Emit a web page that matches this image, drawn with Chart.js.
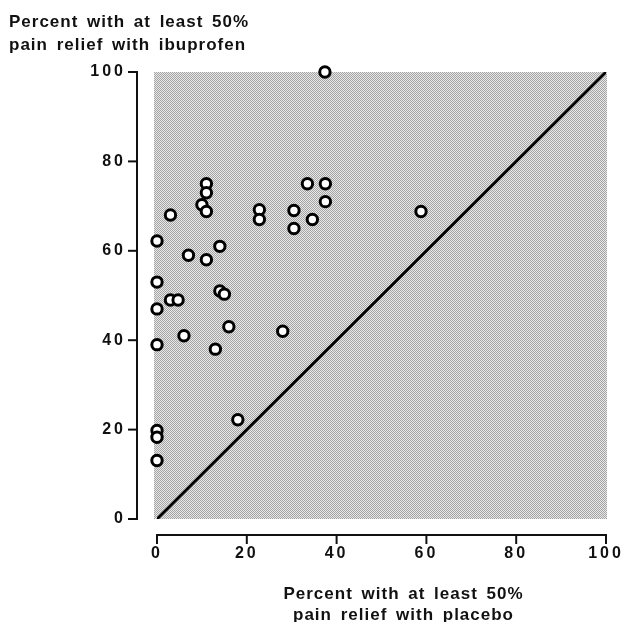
<!DOCTYPE html>
<html>
<head>
<meta charset="utf-8">
<script src="https://cdn.jsdelivr.net/npm/chart.js@4/dist/chart.umd.min.js"></script>
<style>
  html, body { margin: 0; padding: 0; background: #ffffff; }
  #wrap { width: 626px; height: 622px; position: relative; }
</style>
</head>
<body>
<div id="wrap"><canvas id="c" width="626" height="622"></canvas></div>
<script>
// ---- data ----
const placebo   = [37.4, 11, 11, 10, 11, 3, 0, 14, 7, 11, 0, 14, 15, 3, 4.7, 0, 16, 6, 0, 13, 28, 18, 0, 0, 0, 33.5, 37.5, 37.5, 22.8, 22.8, 30.5, 30.5, 34.6, 58.8];
const ibuprofen = [100, 75, 73, 70.3, 68.8, 68, 62.2, 61, 59, 58, 53, 51, 50.3, 49, 49, 47, 43, 41, 39, 38, 42, 22.2, 19.8, 18.3, 13.1, 75, 75, 71, 69.2, 67, 69, 65, 67, 68.8];
const equalityLine = [0, 100];
const tickValues = [0, 20, 40, 60, 80, 100];
const yTitleLines = ['Percent with at least 50%', 'pain relief with ibuprofen'];
const xTitleLines = ['Percent with at least 50%', 'pain relief with placebo'];

const points = placebo.map((x, i) => ({ x: x, y: ibuprofen[i] }));
const diag = equalityLine.map(v => ({ x: v, y: v }));

// stipple pattern for the plot area
const pc = document.createElement('canvas');
pc.width = 2; pc.height = 2;
const pg = pc.getContext('2d');
pg.fillStyle = '#e8e8e8'; pg.fillRect(0, 0, 2, 2);
pg.fillStyle = '#a4a4a4'; pg.fillRect(0, 0, 1, 1); pg.fillRect(1, 1, 1, 1);

const FONT_FAMILY = '"Liberation Sans", Arial, Helvetica, sans-serif';

const decor = {
  id: 'decor',
  beforeUpdate(chart) { chart.ctx.letterSpacing = '3px'; },
  beforeLayout(chart) { chart.ctx.letterSpacing = '3px'; },
  beforeDraw(chart) { chart.ctx.letterSpacing = '3px'; },
  beforeDatasetsDraw(chart) {
    const { ctx, chartArea: a } = chart;
    ctx.save();
    ctx.fillStyle = ctx.createPattern(pc, 'repeat');
    ctx.fillRect(a.left - 3, a.top, a.right - a.left + 4, a.bottom - a.top);
    ctx.restore();
  },
  afterDraw(chart) {
    const { ctx, chartArea: a, scales } = chart;
    const xs = scales.x, ys = scales.y;
    ctx.save();
    ctx.strokeStyle = '#111';
    ctx.lineWidth = 2;
    ctx.lineCap = 'butt';
    // y axis (offset)
    const ax = a.left - 20;
    ctx.beginPath();
    ctx.moveTo(ax, ys.getPixelForValue(100) - 1);
    ctx.lineTo(ax, ys.getPixelForValue(0) + 1);
    ctx.stroke();
    tickValues.forEach(v => {
      const py = ys.getPixelForValue(v);
      ctx.beginPath(); ctx.moveTo(ax - 9, py); ctx.lineTo(ax + 1, py); ctx.stroke();
    });
    // x axis (offset)
    const ay = a.bottom + 16;
    ctx.beginPath();
    ctx.moveTo(xs.getPixelForValue(0) - 1, ay);
    ctx.lineTo(xs.getPixelForValue(100) + 1, ay);
    ctx.stroke();
    tickValues.forEach(v => {
      const px = xs.getPixelForValue(v);
      ctx.beginPath(); ctx.moveTo(px, ay - 1); ctx.lineTo(px, ay + 9); ctx.stroke();
    });
    // titles
    ctx.fillStyle = '#111';
    ctx.font = 'bold 17px ' + FONT_FAMILY;
    ctx.letterSpacing = '1px';
    ctx.wordSpacing = '3px';
    ctx.textBaseline = 'alphabetic';
    ctx.textAlign = 'left';
    ctx.fillText(yTitleLines[0], 9, 27);
    ctx.fillText(yTitleLines[1], 9, 50);
    ctx.textAlign = 'center';
    const cx = (a.left + a.right) / 2 + 22;
    ctx.fillText(xTitleLines[0], cx, 599);
    ctx.fillText(xTitleLines[1], cx, 620);
    ctx.restore();
  }
};

new Chart(document.getElementById('c'), {
  type: 'scatter',
  data: {
    datasets: [
      {
        type: 'line',
        data: diag,
        borderColor: '#000',
        borderWidth: 3,
        pointRadius: 0,
        fill: false,
        order: 2
      },
      {
        data: points,
        backgroundColor: '#ffffff',
        borderColor: '#000',
        borderWidth: 3,
        pointRadius: 5.2,
        pointHoverRadius: 5.2,
        clip: false,
        order: 1
      }
    ]
  },
  options: {
    responsive: false,
    animation: false,
    events: [],
    layout: { padding: { top: 72, right: 20, bottom: 0, left: 0 } },
    plugins: { legend: { display: false }, tooltip: { enabled: false }, title: { display: false } },
    scales: {
      x: {
        type: 'linear', min: 0, max: 100,
        grid: { display: false, drawTicks: false },
        border: { display: false },
        afterBuildTicks(s) { s.ticks = tickValues.map(v => ({ value: v })); },
        afterFit(s) { s.height = 103; s.paddingLeft = 0; s.paddingRight = 0; },
        ticks: { color: '#111', padding: 25, font: { family: FONT_FAMILY, size: 16, weight: 'bold' } }
      },
      y: {
        type: 'linear', min: 0, max: 100,
        grid: { display: false, drawTicks: false },
        border: { display: false },
        afterBuildTicks(s) { s.ticks = tickValues.map(v => ({ value: v })); },
        afterFit(s) { s.width = 157; s.paddingTop = 0; s.paddingBottom = 0; },
        ticks: { color: '#111', padding: 31, font: { family: FONT_FAMILY, size: 16, weight: 'bold' } }
      }
    }
  },
  plugins: [decor]
});
</script>
</body>
</html>
